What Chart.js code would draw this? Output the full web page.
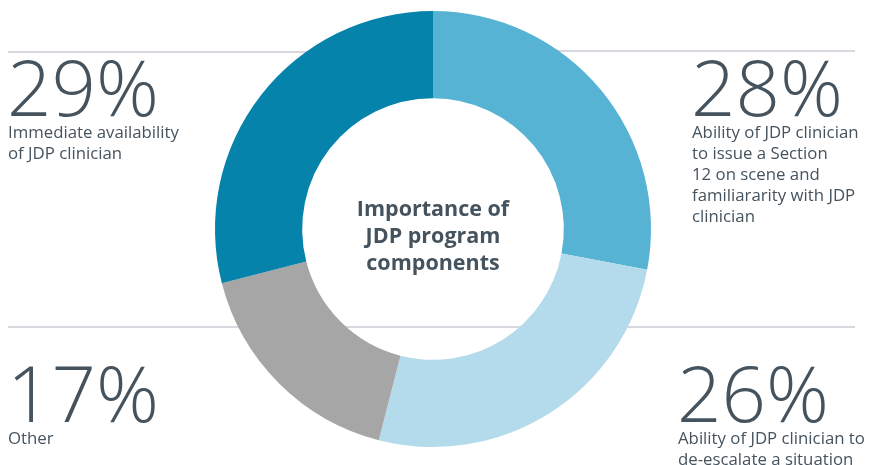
<!DOCTYPE html>
<html>
<head>
<meta charset="utf-8">
<script src="https://cdn.jsdelivr.net/npm/chart.js@4"></script>
<style>
  html, body { margin: 0; padding: 0; background: #fff; }
  #wrap { width: 869px; height: 465px; }
</style>
</head>
<body>
<div id="wrap"><canvas id="jdpChart" width="869" height="465"></canvas></div>
<script>
// slices, clockwise from 12 o'clock
const categories = [
    'Ability of JDP clinician to issue a Section 12 on scene and familiararity with JDP clinician',
    'Ability of JDP clinician to de-escalate a situation',
    'Other',
    'Immediate availability of JDP clinician'
];
const shares = [28, 26, 17, 29];
const sliceColors = ['#57b3d4', '#b3dbeb', '#a6a6a6', '#0583ab'];

// wrapped label lines as in the original
const labelLines = [
    ['Ability of JDP clinician', 'to issue a Section', '12 on scene and', 'familiararity with JDP', 'clinician'],
    ['Ability of JDP clinician to', 'de-escalate a situation'],
    ['Other'],
    ['Immediate availability', 'of JDP clinician']
];
const centerTitle = ['Importance of', 'JDP program', 'components'];

const textColor = '#45535e';

// where each callout sits: x, baseline of the percentage
const callouts = [
    { x: 691, y: 116 },
    { x: 677, y: 422 },
    { x: 7, y: 422 },
    { x: 7, y: 116 }
];

// thin grey divider lines behind the doughnut
const dividerPlugin = {
    id: 'dividers',
    beforeDatasetsDraw(chart) {
        const ctx = chart.ctx;
        ctx.save();
        ctx.strokeStyle = '#c8ced3';
        ctx.lineWidth = 1.5;
        [[8, 52, 433, 52], [433, 51, 855, 51], [8, 327, 433, 327], [433, 327, 855, 327]].forEach(l => {
            ctx.beginPath();
            ctx.moveTo(l[0], l[1]);
            ctx.lineTo(l[2], l[3]);
            ctx.stroke();
        });
        ctx.restore();
    }
};

// callout text and centre title
const calloutPlugin = {
    id: 'callouts',
    afterDraw(chart) {
        const ctx = chart.ctx;
        ctx.save();
        ctx.fillStyle = textColor;
        ctx.textBaseline = 'alphabetic';
        ctx.textAlign = 'left';

        shares.forEach((value, i) => {
            const pos = callouts[i];
            ctx.font = '300 78px "Open Sans"';
            ctx.fillText(value + '%', pos.x, pos.y);
            ctx.font = '400 16.8px "Open Sans"';
            labelLines[i].forEach((line, j) => {
                ctx.fillText(line, pos.x + 1, pos.y + 22 + j * 21);
            });
        });

        // centre title
        const meta = chart.getDatasetMeta(0).data[0];
        ctx.textAlign = 'center';
        ctx.font = '700 21.5px "Open Sans"';
        centerTitle.forEach((line, j) => {
            ctx.fillText(line, meta.x, meta.y - 13 + j * 27);
        });
        ctx.restore();
    }
};

new Chart(document.getElementById('jdpChart').getContext('2d'), {
    type: 'doughnut',
    data: {
        labels: categories,
        datasets: [{
            data: shares,
            backgroundColor: sliceColors,
            borderWidth: 0
        }]
    },
    options: {
        responsive: false,
        animation: false,
        cutout: '60%',
        layout: { padding: { top: 11, bottom: 18, left: 0, right: 3 } },
        plugins: {
            legend: { display: false },
            tooltip: { enabled: false }
        }
    },
    plugins: [dividerPlugin, calloutPlugin]
});
</script>
</body>
</html>
